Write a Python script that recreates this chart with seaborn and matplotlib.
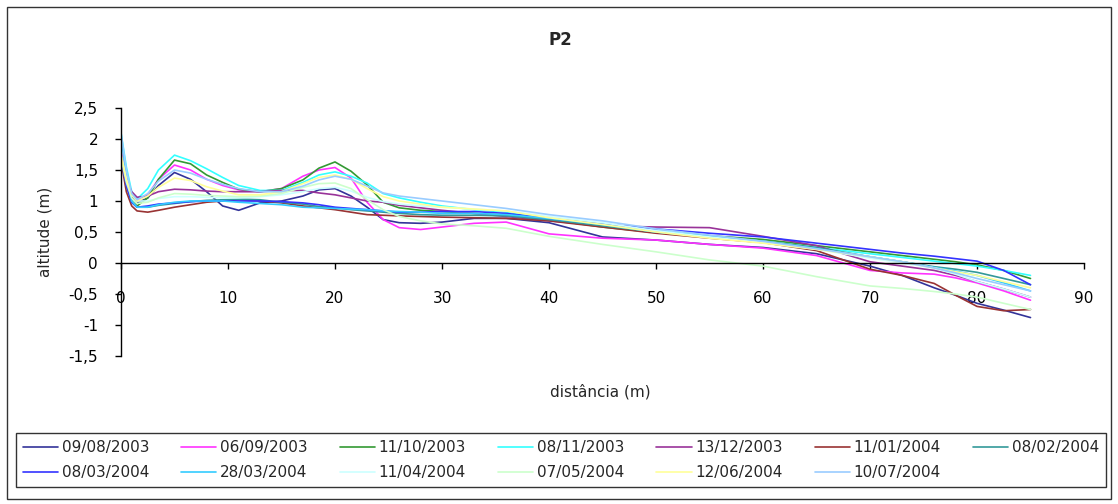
import matplotlib
matplotlib.use("Agg")
import matplotlib.pyplot as plt
import seaborn as sns
import pandas as pd
from matplotlib.patches import Rectangle
from matplotlib.ticker import FuncFormatter, MultipleLocator

# ---------------- data ----------------
distance = [0, 0.5, 1, 1.5, 2.5, 3.5, 5, 6.5, 8, 9.5, 11, 13, 15, 17, 18.5, 20, 21.5, 23,
            24.5, 26, 28, 30, 33, 36, 40, 45, 50, 55, 60, 65, 70, 73, 76, 78, 80, 82.5, 85]

dates = ["09/08/2003", "06/09/2003", "11/10/2003", "08/11/2003", "13/12/2003",
         "11/01/2004", "08/02/2004", "08/03/2004", "28/03/2004", "11/04/2004",
         "07/05/2004", "12/06/2004", "10/07/2004"]

s_09_08_2003 = [1.75, 1.35, 1.08, 0.97, 1.05, 1.25, 1.46, 1.35, 1.15, 0.92, 0.85, 0.97, 1.0, 1.08,
                1.18, 1.2, 1.08, 0.9, 0.7, 0.65, 0.64, 0.66, 0.72, 0.72, 0.65, 0.42, 0.37, 0.3,
                0.25, 0.15, -0.05, -0.2, -0.4, -0.52, -0.65, -0.76, -0.88]
s_06_09_2003 = [1.8, 1.35, 1.1, 1.0, 1.1, 1.35, 1.58, 1.5, 1.35, 1.25, 1.18, 1.15, 1.2, 1.4,
                1.5, 1.54, 1.37, 0.98, 0.7, 0.57, 0.54, 0.58, 0.64, 0.66, 0.47, 0.4, 0.37, 0.3,
                0.24, 0.12, -0.12, -0.16, -0.18, -0.24, -0.32, -0.45, -0.6]
s_11_10_2003 = [1.68, 1.25, 1.0, 0.92, 1.05, 1.35, 1.66, 1.6, 1.42, 1.3, 1.19, 1.15, 1.2, 1.34,
                1.53, 1.63, 1.48, 1.26, 0.98, 0.89, 0.85, 0.83, 0.8, 0.77, 0.7, 0.58, 0.49, 0.44,
                0.38, 0.28, 0.18, 0.12, 0.06, 0.02, -0.03, -0.12, -0.25]
s_08_11_2003 = [2.1, 1.55, 1.15, 1.03, 1.2, 1.5, 1.74, 1.65, 1.52, 1.38, 1.25, 1.17, 1.17, 1.3,
                1.42, 1.47, 1.4, 1.29, 1.12, 1.05, 0.98, 0.92, 0.86, 0.82, 0.72, 0.62, 0.52, 0.43,
                0.35, 0.25, 0.15, 0.09, 0.03, -0.01, -0.05, -0.12, -0.2]
s_13_12_2003 = [1.7, 1.35, 1.15, 1.06, 1.08, 1.15, 1.19, 1.18, 1.16, 1.15, 1.15, 1.15, 1.17, 1.17,
                1.13, 1.1, 1.05, 1.0, 0.98, 0.93, 0.89, 0.85, 0.8, 0.75, 0.68, 0.6, 0.58, 0.57,
                0.43, 0.28, 0.02, -0.05, -0.12, -0.2, -0.3, -0.42, -0.55]
s_11_01_2004 = [1.65, 1.15, 0.92, 0.84, 0.82, 0.85, 0.9, 0.94, 0.98, 1.0, 1.02, 1.0, 0.97, 0.92,
                0.89, 0.86, 0.82, 0.78, 0.77, 0.76, 0.75, 0.74, 0.73, 0.72, 0.68, 0.58, 0.48, 0.4,
                0.33, 0.2, -0.1, -0.2, -0.33, -0.52, -0.7, -0.77, -0.75]
s_08_02_2004 = [1.7, 1.25, 0.98, 0.9, 0.9, 0.93, 0.96, 0.99, 1.01, 1.02, 1.03, 1.02, 0.98, 0.95,
                0.91, 0.89, 0.86, 0.84, 0.82, 0.8, 0.78, 0.77, 0.77, 0.76, 0.7, 0.6, 0.5, 0.42,
                0.35, 0.25, 0.1, 0.02, -0.06, -0.1, -0.15, -0.25, -0.35]
s_08_03_2004 = [1.7, 1.25, 0.98, 0.9, 0.92, 0.95, 0.97, 0.99, 1.0, 1.0, 1.0, 1.0, 0.99, 0.97,
                0.94, 0.9, 0.88, 0.86, 0.84, 0.82, 0.82, 0.83, 0.83, 0.8, 0.72, 0.63, 0.55, 0.48,
                0.42, 0.32, 0.22, 0.16, 0.11, 0.07, 0.03, -0.12, -0.35]
s_28_03_2004 = [2.05, 1.4, 1.0, 0.9, 0.9, 0.94, 0.98, 1.0, 1.0, 1.0, 0.98, 0.96, 0.94, 0.9,
                0.89, 0.88, 0.87, 0.86, 0.84, 0.83, 0.82, 0.8, 0.8, 0.78, 0.72, 0.62, 0.5, 0.42,
                0.35, 0.23, 0.1, 0.02, -0.07, -0.13, -0.2, -0.32, -0.45]
s_11_04_2004 = [1.75, 1.35, 1.1, 1.0, 1.0, 1.04, 1.07, 1.07, 1.06, 1.05, 1.05, 1.07, 1.1, 1.15,
                1.2, 1.22, 1.16, 1.06, 0.99, 0.95, 0.92, 0.9, 0.87, 0.84, 0.75, 0.65, 0.52, 0.42,
                0.33, 0.22, 0.08, 0.0, -0.08, -0.18, -0.3, -0.42, -0.55]
s_07_05_2004 = [1.7, 1.3, 1.05, 0.96, 0.98, 1.05, 1.12, 1.11, 1.09, 1.08, 1.07, 1.08, 1.12, 1.22,
                1.28, 1.29, 1.2, 1.02, 0.86, 0.75, 0.68, 0.63, 0.6, 0.56, 0.43, 0.3, 0.18, 0.05,
                -0.05, -0.22, -0.37, -0.41, -0.46, -0.5, -0.55, -0.65, -0.75]
s_12_06_2004 = [1.75, 1.35, 1.1, 1.0, 1.08, 1.22, 1.37, 1.33, 1.23, 1.16, 1.1, 1.1, 1.15, 1.28,
                1.38, 1.42, 1.35, 1.2, 1.07, 1.0, 0.95, 0.9, 0.87, 0.84, 0.73, 0.62, 0.5, 0.4,
                0.32, 0.22, 0.1, 0.02, -0.08, -0.14, -0.2, -0.3, -0.4]
s_10_07_2004 = [2.1, 1.5, 1.12, 1.02, 1.12, 1.32, 1.5, 1.45, 1.35, 1.27, 1.2, 1.15, 1.15, 1.24,
                1.34, 1.4, 1.35, 1.24, 1.13, 1.08, 1.04, 1.0, 0.94, 0.88, 0.78, 0.68, 0.55, 0.45,
                0.35, 0.23, 0.1, 0.02, -0.08, -0.16, -0.25, -0.35, -0.45]

series = [s_09_08_2003, s_06_09_2003, s_11_10_2003, s_08_11_2003, s_13_12_2003,
          s_11_01_2004, s_08_02_2004, s_08_03_2004, s_28_03_2004, s_11_04_2004,
          s_07_05_2004, s_12_06_2004, s_10_07_2004]

colors = ["#333399", "#FF33FF", "#339933", "#33FFFF", "#993399", "#993333", "#339999",
          "#3333FF", "#33CCFF", "#CCFFFF", "#CCFFCC", "#FFFF99", "#99CCFF"]

x_ticks = [0, 10, 20, 30, 40, 50, 60, 70, 80, 90]

rows = []
for d, vals in zip(dates, series):
    for xv, yv in zip(distance, vals):
        rows.append({"dist": xv, "alt": yv, "data": d})
df = pd.DataFrame(rows)

# ---------------- figure ----------------
sns.set_theme(style="white")
plt.rcParams["font.family"] = ["DejaVu Sans"]
plt.rcParams["axes.unicode_minus"] = False

FS = 11

W, H = 1118, 504
fig = plt.figure(figsize=(W / 100, H / 100), dpi=100)
fig.patch.set_facecolor("white")

def fx(px):
    return px / W

def fy(py):
    return 1 - py / H

ax = fig.add_axes([fx(121), fy(356), fx(1084) - fx(121), fy(108) - fy(356)])
ax.set_facecolor("white")

sns.lineplot(data=df, x="dist", y="alt", hue="data", hue_order=dates,
             palette=dict(zip(dates, colors)), sort=False, estimator=None,
             linewidth=1.2, ax=ax, legend=False)

ax.set_xlim(0, 90)
ax.set_ylim(-1.5, 2.5)
ax.set_xlabel("")
ax.set_ylabel("")
ax.spines["top"].set_visible(False)
ax.spines["right"].set_visible(False)
ax.spines["bottom"].set_position(("data", 0))
for sp in ("left", "bottom"):
    ax.spines[sp].set_color("black")
    ax.spines[sp].set_linewidth(1.0)

fmt = FuncFormatter(lambda v, p: ("%g" % round(v, 2)).replace(".", ","))
ax.xaxis.set_major_formatter(fmt)
ax.yaxis.set_major_formatter(fmt)
ax.set_xticks(x_ticks)
ax.yaxis.set_major_locator(MultipleLocator(0.5))
ax.tick_params(axis="x", direction="out", length=4.5, width=1, pad=16,
               labelsize=FS, colors="black", bottom=True)
ax.tick_params(axis="y", direction="out", length=4.5, width=1, pad=12,
               labelsize=FS, colors="black", left=True)
ax.grid(False)

fig.text(fx(560), fy(40), "P2", ha="center", va="center", fontsize=12, fontweight="bold")
fig.text(fx(600), fy(392), "distância (m)", ha="center", va="center", fontsize=FS)
fig.text(fx(45), fy(232), "altitude (m)", ha="center", va="center", fontsize=FS, rotation=90)

# legend (row-wise order like the reference: reorder for column-major filling)
lines = ax.get_lines()[:len(dates)]
ncol = 7
order = []
for c in range(ncol):
    for r in range(2):
        i = r * ncol + c
        if i < len(dates):
            order.append(i)
leg = fig.legend([lines[i] for i in order], [dates[i] for i in order],
                 loc="center", ncol=ncol, mode="expand",
                 bbox_to_anchor=(fx(16), fy(490), fx(1106) - fx(16), fy(430) - fy(490)),
                 fontsize=FS, frameon=True, fancybox=False, borderaxespad=0,
                 handlelength=2.3, handletextpad=0.25, labelspacing=0.65,
                 borderpad=0.45, columnspacing=0.9)
leg.get_frame().set_edgecolor("black")
leg.get_frame().set_linewidth(1.0)
for lh in leg.get_lines():
    lh.set_linewidth(1.2)

# outer chart border
fig.patches.append(Rectangle((fx(7), fy(499)), fx(1111) - fx(7), fy(7) - fy(499),
                             transform=fig.transFigure, fill=False,
                             edgecolor="#333333", linewidth=1.0))

fig.savefig("out.png", dpi=100, facecolor="white")
